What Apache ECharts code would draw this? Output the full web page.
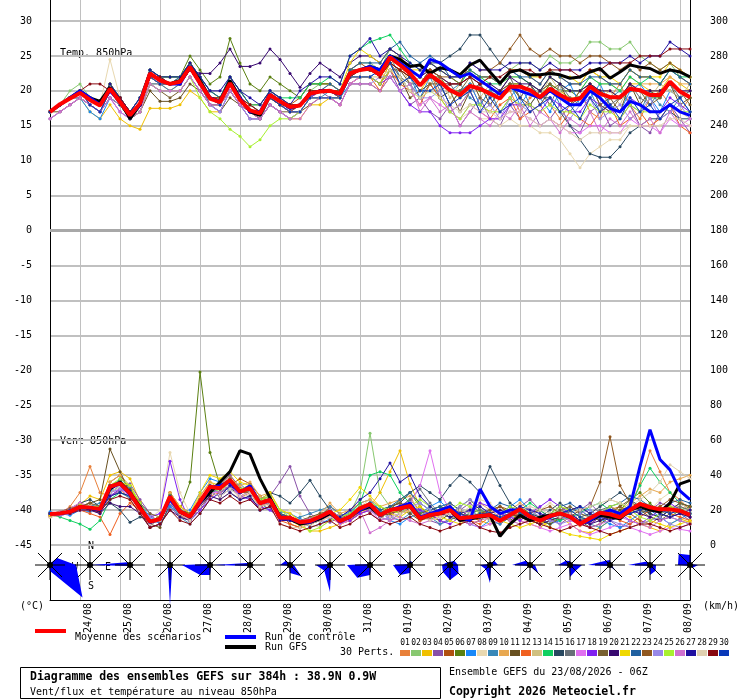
<!DOCTYPE html>
<html lang="fr">
<head>
<meta charset="UTF-8" />
<title>GEFS 850hPa</title>
<script src="https://cdn.jsdelivr.net/npm/echarts@6/dist/echarts.min.js"></script>
<style>html,body{margin:0;padding:0;background:#fff}</style>
</head>
<body>
<div id="main" style="width:740px;height:700px"></div>
<script>
// 6-hourly steps from 23/08 06Z to +384h
const steps = [];
for (let h = 0; h <= 384; h += 6) steps.push(h);

const dayLabels = ["24/08","25/08","26/08","27/08","28/08","29/08","30/08","31/08",
  "01/09","02/09","03/09","04/09","05/09","06/09","07/09","08/09"];

const pertColors = ["#e8803a","#88c870","#f0c000","#8850a8","#b05010","#5a8010","#1888f8","#e8d8b0",
  "#3888b8","#e8a850","#685020","#f06020","#d0c080","#10d060","#284860","#687078",
  "#e070f0","#8020f0","#786030","#380870","#f0d800","#2060a0","#905820","#9888e8",
  "#a8f030","#d070d0","#2010a0","#e0d0b0","#880810","#0838b8"];

// temperature 850hPa (°C)
const tempMean = [17.0,18.1,18.9,19.7,18.7,17.9,20.3,18.4,16.5,18.2,22.5,21.5,21.0,21.3,23.4,21.1,
  18.9,18.4,21.1,18.7,17.2,16.8,19.4,18.5,17.7,17.9,19.6,19.9,20.0,19.6,22.5,23.0,
  23.2,22.3,24.8,23.7,22.5,20.8,22.3,21.3,20.1,19.4,20.7,20.3,19.6,18.9,20.6,20.6,
  20.1,19.1,20.3,19.4,18.7,18.9,20.6,19.6,19.1,19.1,20.3,20.1,19.4,19.4,21.3,19.9,19.1];
const tempControl = [17,18,19,20,19,18,20,18.5,16.5,18,22.5,21.5,21,21,23.5,21,
  19,18.5,21,19,17,17,19.5,18.5,17.5,18,19.5,20,20,19.5,22.5,23,
  23.5,23,25,24,23,22,24.5,24,23,22,22.5,21.5,20.5,19.5,20.5,20,
  19.5,19,20,19,18,18,20,19,17.5,17,18.5,18,17,17,18,17,16.5];
const tempGfs = [17,18,19,20,19,18.5,20.5,18.5,16,18,22.5,21.5,21,21.5,23.5,21.5,
  19,18.5,21.5,19,17,16.5,19.5,18.5,17.5,18,19.5,20,20,19.5,22.5,23,
  23.5,23,25,24.5,23.5,23.7,22.5,23.3,23.0,22.3,23.7,24.4,22.7,21.1,22.7,23.0,
  22.3,22.3,22.5,22.3,21.8,22.0,22.7,23.2,21.8,22.7,23.7,23.4,23.2,22.5,23.0,22.7,22.0];
const tempPerts = [
  [17,18,19,20,18,17,20,18,16,17,21,21,20,21,23,21, 18,18,20,18,17,16,19,18,17,18,19,20,20,19,22,22,
   22,21,24,22,20,21,23,19,18,20,21,18,17,19,20,17, 19,20,18,16,18,20,17,16,19,21,18,16,19,20,18,17,19],
  [17,18,20,21,19,18,21,19,17,19,23,22,21,22,24,22, 19,19,22,20,18,17,20,19,18,18,20,21,21,20,23,24,
   24,23,26,25,23,22,24,23,22,21,23,22,22,21,23,24, 24,23,25,24,24,25,27,27,26,26,27,25,24,23,24,22,21],
  [16,17,18,19,17,16,18,16,15,14.5,17.5,17.5,17.5,18,20,19, 17,17,20,18,17,16,18,17,16,16,18,18,19,18,21,22,
   22,21,24,23,22,20,22,21,20,19,21,20,20,19,21,21, 20,19,21,20,19,19,21,20,20,19,21,21,20,20,22,21,20],
  [17,18,19,20,19,18,20,19,17,18,22,21,21,21,23,21, 19,18,21,19,17,17,19,18,17,17,19,20,19,19,22,22,
   22,21,23,20,18,19,17,16,18,15,17,19,16,15,18,16, 18,15,16,18,15,14,17,18,15,16,18,15,14,17,18,16,14],
  [17,18,19,20,19,18,21,19,17,19,23,22,22,22,24,22, 20,19,22,20,18,18,20,19,18,19,21,21,21,20,23,24,
   23,22,24,23,22,21,23,22,21,21,22,22,22,21,23,23, 22,21,23,22,21,21,23,22,21,21,23,22,22,21,23,22,21],
  [17,18,19,20,19,18,21,19,17,18,23,22,22,22,25,23, 21,22,27.5,24,21,20,22,21,20,19,21,21,21,20,23,23,
   23,23,25,24,22,21,22,22,20,20,21,20,20,19,21,21, 20,19,21,20,20,19,21,20,19,19,20,20,19,19,21,20,19],
  [16,17,18,19,17,16,19,17,16,17,21,20,20,20,22,20, 18,17,20,18,16,16,18,17,16,17,19,19,19,19,21,22,
   22,23,24,21,22,19,22,21,18,20,21,18,20,19,21,18, 20,19,17,20,21,18,19,21,18,17,20,21,19,17,20,19,17],
  [17,18,19,20,19,18,24.5,19,17,18,22,21,21,21,23,21, 19,18,21,19,17,17,19,18,17,18,19,20,20,19,22,22,
   22,22,23,21,20,18,19,18,17,16,17,16,16,15,16,15, 15,14,14,13,11,9,11,12,13,13,15,15,15,16,18,17,16],
  [17,18,19,19,18,17,20,18,16,17,21,21,20,21,23,21, 18,18,20,18,17,16,19,18,17,17,19,19,20,19,22,23,
   23,22,25,22,20,21,22,19,20,21,19,18,20,17,19,21, 18,20,21,18,17,19,20,17,19,20,18,17,20,18,17,19,20],
  [17,18,19,20,19,18,21,19,17,18,22,22,21,21,24,21, 19,19,21,19,17,17,19,18,18,18,20,20,20,20,22,23,
   23,23,25,24,23,22,23,22,21,21,22,21,22,21,22,22, 21,20,22,21,20,20,22,21,21,20,22,21,21,21,22,21,21],
  [17,17,18,19,18,17,19,18,16,17,20,18.5,18.5,19,21,20, 18,17,19,18,16,16,18,17,16,17,18,19,19,18,21,21,
   21,20,22,22,19,20,21,19,20,17,20,21,18,20,21,19, 21,18,20,21,18,19,21,18,19,17,21,18,20,19,21,18,19],
  [17,18,19,20,19,18,20,18,16,18,22,21,21,21,23,21, 19,18,21,19,17,17,19,18,17,17,19,19,19,18,21,22,
   22,20,23,21,20,18,21,19,17,18,20,17,16,18,19,16, 17,18,16,15,17,16,15,17,18,15,16,17,15,16,18,15,14],
  [17,18,19,20,19,18,21,19,17,18,22,22,21,21,23,21, 19,19,21,19,18,17,20,19,18,18,20,20,21,20,23,23,
   23,22,24,24,21,22,21,22,19,21,22,19,21,20,22,19, 21,19,22,20,18,20,21,19,20,18,21,20,19,21,20,19,21],
  [17,18,19,20,19,18,21,19,17,19,23,22,22,22,24,22, 20,19,22,20,18,18,20,19,19,19,21,21,22,21,25,26,
   27,27.5,28,26,24,23,24,23,22,21,23,22,21,21,22,22, 21,20,22,21,20,20,22,21,21,20,22,21,22,21,23,22,22],
  [17,18,19,20,19,18,20,19,17,18,22,21,21,21,23,21, 19,18,21,19,17,17,19,18,18,18,20,20,20,20,23,23,
   23,23,25,24,23,22,24,24,25,26,28,28,26,24,23,22, 21,19,19,17,15,13,11,10.5,10.5,12,14,15,16,16,17,16,16],
  [17,18,19,20,18,17,20,18,16,18,22,21,21,21,23,21, 19,18,21,19,17,16,19,18,17,17,19,20,20,19,22,23,
   23,23,24,22,21,21,23,20,21,19,20,21,19,20,22,19, 21,20,18,21,19,18,21,20,18,19,21,19,18,20,21,19,20],
  [16,17,18,19,18,17,19,17,16,17,21,20,20,20,22,20, 18,17,20,18,16,16,18,17,16,17,19,19,19,18,21,22,
   22,21,23,22,20,18,19,18,17,16,18,17,16,16,17,17, 16,15,16,15,14,14,15,15,14,14,16,15,15,14,16,15,15],
  [17,18,19,20,19,18,20,19,17,18,22,22,21,21,23,21, 19,18,21,19,17,17,19,18,17,18,19,20,20,19,22,22,
   22,21,22,20,18,17,17,15,14,14,14,15,16,16,18,18, 18,17,19,18,17,17,19,18,17,17,19,18,17,17,19,18,17],
  [17,18,19,19,18,17,19,18,16,17,21,20,19,20,22,20, 18,18,20,18,17,16,18,17,17,17,19,19,19,19,22,22,
   22,21,23,23,21,19,21,21,18,20,22,19,18,20,21,19, 18,20,21,19,18,20,21,18,17,19,21,20,18,19,21,20,18],
  [17,18,19,20,19,18,20,19,17,18,22,22,21,21,23,22.5, 22.5,24,26,23.5,23.5,24,26,24.5,22.5,20.5,22.5,24,23,22,24,25,
   25,24,26,25,23,22,23,22,21,21,22,21,21,20,22,21, 21,20,22,21,20,20,21,20,20,19,21,20,20,20,21,20,20],
  [17,18,19,20,19,18,21,19,17,18,22,22,21,21,24,21, 19,19,21,19,18,17,19,18,18,18,20,20,20,20,24,26,
   25,24,26,25,23,23,24,23,22,22,23,22,22,21,23,23, 22,22,23,22,22,21,23,22,22,21,23,22,22,22,24,23,22],
  [17,18,19,20,19,18,21,19,17,19,23,22,21,22,24,22, 20,19,22,20,18,17,20,19,18,18,20,20,21,20,23,24,
   24,24,26,27,25,24,25,24,22,22,23,22,22,21,23,22, 22,21,23,22,21,21,22,22,21,21,23,22,22,21,23,22,21],
  [17,18,19,20,19,18,20,19,17,18,22,21,21,21,23,21, 19,18,21,19,17,17,19,18,17,18,20,20,20,19,22,23,
   23,22,24,23,22,21,23,22,22,21,24,23,23,24,26,28, 26,25,26,25,25,24,25,25,24,23,24,23,24,23,24,23,22],
  [17,18,19,19,18,17,19,18,16,17,21,20,20,20,22,20, 18,17,20,18,16,16,18,17,16,17,19,19,19,18,21,21,
   21,22,22,20,21,19,19,20,17,18,20,17,18,16,19,18, 17,18,19,17,16,18,19,16,17,18,16,17,19,16,17,18,16],
  [17,18,19,20,19,18,20,18,16,17,21,20,20,20,22,19, 17,16,14.5,13.5,12,13,15,16,16,17,19,19,19,19,22,22,
   22,21,23,22,20,19,20,19,17,16,18,18,17,17,19,18, 18,17,18,17,17,16,18,17,17,16,18,17,17,17,18,17,17],
  [16,17,18,19,18,17,19,17,16,17,21,20,20,20,22,20, 18,18,20,18,17,16,18,17,16,16,18,19,19,18,21,21,
   21,20,22,20,21,17,19,17,18,15,17,16,15,17,16,18, 15,17,16,14,16,15,17,14,16,15,17,15,16,14,17,15,16],
  [17,18,19,20,19,18,21,19,17,19,23,22,22,22,24,22, 20,20,22,20,19,18,20,19,18,20,21,22,22,21,25,26,
   27.5,25,26,25,24,23,24,23,22,22,24,23,23,23,24,24, 24,23,24,23,23,23,24,24,24,24,25,24,25,25,27,26,25],
  [17,18,19,20,19,18,20,18,16,18,22,21,21,21,23,21, 19,18,21,19,17,17,19,18,17,17,19,19,19,19,22,22,
   22,22,23,22,20,19,20,19,18,17,18,17,17,16,17,17, 16,15,16,15,14,13,14,14,14,14,15,15,15,15,16,16,15],
  [17,18,19,20,21,21,20,19,17,18,22,22,21,21,23,21, 19,19,21,19,18,17,19,18,18,18,20,20,20,20,22,23,
   23,22,24,23,22,21,22,21,21,21,22,21,22,22,23,23, 23,22,23,23,23,22,23,23,24,24,24,25,25,25,26,26,26],
  [17,18,19,20,18,17,20,18,16,18,22,21,21,21,23,21, 19,18,21,19,17,17,19,18,17,17,19,19,19,19,22,22,
   22,23,24,21,22,20,20,21,18,19,20,17,19,17,18,19, 17,18,19,17,18,16,19,17,18,16,19,17,18,16,18,19,17]
];

// wind speed 850hPa (km/h)
const windMean = [17.7,18.1,19.1,21.9,21.4,20.6,33.4,35.3,29.6,21.0,13.4,14.9,27.7,19.1,16.2,24.8,
  33.4,32.5,37.2,30.5,32.5,23.9,25.8,15.6,15.6,13.0,13.7,16.2,19.1,13.7,16.2,21.0,
  23.4,17.2,20.0,21.0,22.3,15.3,17.2,18.1,20.0,15.3,15.9,16.6,17.2,13.9,17.2,20.4,
  16.2,13.9,16.6,18.1,16.2,12.0,15.3,18.5,17.6,15.9,20.0,23.5,21.6,20.4,20.4,19.6,17.2];
const windControl = [18,18,19,22,21,20,33,35,29,21,13,15,26,19,16,24,
  33,34,36,30,34,24,26,15,15,13,13,16,19,13,16,20,
  23,17,20,22,24,16,18,20,22,16,14,32,22,18,20,20,
  16,14,16,18,16,12,14,18,20,18,22,45,66,49,43,31,26];
const windGfs = [18,18,19,22,21,20,32,36,30,22,13,15,27,19,16,24,
  30,36,42,54,52,38,27,16,15,12,13,15,18,14,16,20,
  22,17,20,21,22,15,17,18,20,14,15,16,17,5,12,17,
  14,16,17,18,16,12,14,17,16,15,20,22,20,19,24,35,37];
const windPerts = [
  [17,18,22,30,45,30,28,32,26,18,12,14,25,17,14,22, 30,28,34,27,30,22,24,14,15,12,13,15,18,13,15,19,
   21,16,18,19,20,14,16,17,18,14,15,16,16,13,16,19, 15,13,16,17,15,11,14,17,17,15,22,35,54,42,30,26,20],
  [18,19,20,22,21,20,34,36,30,22,14,16,28,20,17,26, 34,33,38,31,33,25,27,17,16,14,15,17,20,15,18,30,
   64,30,22,21,23,16,18,19,21,16,17,18,18,15,18,21, 17,15,18,19,17,13,16,19,19,17,21,24,23,21,21,21,18],
  [17,18,20,23,28,26,40,42,38,25,12,14,30,20,15,28, 36,34,40,32,34,25,28,15,14,11,8,8,10,12,14,19,
   22,30,42,54,35,22,16,14,18,20,16,14,12,15,18,14, 12,10,14,16,12,8,7,10,14,18,16,12,10,8,12,15,13],
  [17,19,21,24,20,18,28,31,35,26,18,12,22,16,14,20, 28,34,40,33,26,20,28,36,45,28,18,14,13,16,20,24,
   18,14,16,22,26,20,14,12,15,20,24,18,14,12,16,22, 26,20,15,12,16,20,24,18,14,10,12,16,20,24,22,18,14],
  [16,17,19,22,24,20,36,40,32,20,10,12,30,22,18,26, 30,28,34,38,35,28,24,18,12,10,12,16,22,18,14,18,
   20,18,22,24,20,16,18,20,24,20,16,14,18,22,20,16, 14,12,16,20,18,14,12,16,20,22,18,14,12,16,20,24,20],
  [18,19,20,22,22,21,34,37,31,22,14,16,29,20,36,99, 53,34,38,31,33,24,26,16,16,13,14,16,19,14,16,21,
   23,17,20,26,30,22,17,14,18,22,26,20,16,14,18,22, 18,14,12,16,20,22,18,14,16,20,26,30,24,18,16,20,22],
  [19,18,17,20,19,22,30,38,33,24,16,12,22,18,20,30, 38,36,30,26,28,20,22,19,18,15,10,12,15,16,19,24,
   26,20,14,12,16,18,22,25,20,15,12,10,14,18,22,26, 20,15,12,14,18,22,20,15,12,10,14,18,20,16,12,15,18],
  [16,17,19,21,23,22,30,33,27,19,15,20,53,30,18,22, 28,26,30,27,29,21,23,16,20,18,12,10,14,18,16,22,
   26,22,18,16,20,24,20,16,14,18,22,26,24,18,14,12, 16,20,24,20,16,14,18,22,26,24,20,16,20,26,30,24,20],
  [18,18,19,20,22,24,28,30,27,22,16,14,24,16,12,18, 26,30,33,35,30,24,20,16,14,16,18,20,22,18,16,20,
   24,20,16,14,18,20,16,12,14,18,20,16,14,12,16,18, 14,12,16,18,20,16,12,10,14,18,20,24,22,18,16,14,12],
  [17,18,21,24,22,20,36,40,34,24,14,16,30,22,18,28, 36,32,38,34,36,28,30,20,18,14,15,18,24,18,20,24,
   26,22,24,26,28,18,16,20,22,18,20,24,20,16,20,24, 20,16,18,22,20,16,14,18,22,20,24,28,32,30,36,38,40],
  [18,17,19,22,24,26,55,42,30,20,12,10,24,18,14,22, 30,34,36,28,30,24,26,18,16,12,13,14,18,14,16,22,
   20,16,18,20,18,14,16,18,16,14,12,14,18,16,14,18, 16,14,12,15,18,14,10,12,16,20,22,20,18,16,20,18,16],
  [17,17,18,20,18,16,6,18,24,20,14,16,24,18,16,22, 28,30,34,28,30,22,24,14,12,10,12,14,16,12,14,18,
   20,16,14,18,20,14,16,18,20,16,14,12,16,18,20,16, 14,12,16,18,16,12,14,16,18,14,12,16,20,22,18,16,14],
  [18,19,20,22,20,20,32,36,32,22,12,14,26,20,18,26, 34,32,36,30,32,26,28,18,16,12,12,14,18,14,16,20,
   22,18,20,22,24,16,18,20,22,16,18,20,18,16,18,20, 18,16,18,20,18,14,16,18,20,18,22,24,22,20,22,22,20],
  [18,16,14,12,9,14,26,30,28,20,14,16,28,20,16,24, 30,32,36,30,32,24,26,16,16,14,14,16,20,16,18,24,
   40,42,40,30,24,18,20,22,20,16,18,20,18,14,16,20, 24,20,16,14,16,18,22,24,20,18,22,34,44,36,30,24,22],
  [18,18,20,24,26,22,24,20,13,16,14,16,26,18,16,22, 30,28,32,30,34,26,30,28,24,30,37,28,20,16,18,22,
   24,20,22,24,30,34,30,26,34,40,36,30,45,34,24,20, 18,16,20,24,20,16,18,22,26,30,26,22,18,16,20,24,22],
  [18,18,19,22,21,20,30,34,30,22,14,15,26,19,16,24, 32,32,36,30,32,24,26,16,16,13,14,16,19,14,16,21,
   22,18,20,22,26,32,24,18,20,16,18,20,18,16,18,20, 18,14,16,20,18,14,16,20,22,18,20,22,20,18,20,22,20],
  [18,19,21,24,22,20,30,32,28,20,12,14,26,18,14,22, 30,30,36,28,30,22,24,14,14,12,13,14,17,12,14,18,
   20,14,16,18,24,34,54,30,20,14,12,10,12,14,16,14, 12,10,8,10,12,8,6,8,10,12,10,8,6,8,10,9,8],
  [17,17,18,20,21,22,28,32,30,22,16,18,48,26,14,20, 26,30,34,28,26,22,20,16,14,12,14,16,20,16,14,18,
   20,18,16,18,22,20,18,14,12,16,20,24,22,18,16,14, 18,22,26,22,18,14,12,16,20,18,14,12,16,20,24,20,16],
  [18,18,20,22,24,22,34,36,32,24,18,16,26,20,18,24, 30,34,38,32,30,24,26,18,16,14,16,18,20,16,18,22,
   20,18,22,24,22,18,20,22,20,18,16,18,20,22,18,16, 14,12,16,20,22,18,16,14,18,22,26,20,16,14,18,20,18],
  [18,18,18,20,20,18,24,22,22,18,10,12,20,16,14,22, 28,26,30,26,28,20,22,14,14,12,12,14,18,14,16,20,
   22,18,20,22,20,16,18,20,18,16,14,16,18,20,18,16, 14,12,14,16,18,14,12,14,16,18,20,18,16,14,16,18,16],
  [17,18,20,22,20,21,32,36,34,22,14,16,28,22,18,30, 40,38,42,36,34,26,30,20,18,14,14,16,18,20,26,33,
   28,22,18,16,20,22,18,16,14,12,16,18,16,14,12,10, 12,14,10,8,6,5,4,3,6,8,10,12,14,12,10,12,14],
  [18,18,19,21,20,19,30,34,30,22,14,14,24,18,16,24, 32,30,34,30,32,26,28,18,16,14,15,16,18,14,16,20,
   24,20,22,26,30,24,20,22,24,20,18,16,20,24,22,18, 16,14,18,22,24,20,16,18,22,24,28,26,22,20,24,26,24],
  [18,19,21,22,22,21,34,36,31,22,14,16,28,20,18,26, 34,32,36,30,30,22,24,16,16,14,15,16,18,14,16,20,
   22,16,18,20,22,16,18,20,22,18,16,18,20,22,18,16, 18,20,22,18,16,20,22,36,62,34,24,22,20,22,26,24,22],
  [18,17,18,20,20,20,30,32,30,22,16,14,24,18,16,22, 30,28,32,28,30,24,26,16,14,12,14,16,20,16,18,22,
   20,16,14,18,22,24,20,16,18,22,26,22,18,16,18,22, 20,16,14,12,14,18,20,16,14,12,10,12,14,16,12,10,12],
  [18,19,20,23,22,22,34,38,34,24,14,16,28,20,16,24, 34,30,36,32,34,26,28,20,16,12,8,10,14,16,18,22,
   24,22,20,18,22,26,22,18,20,24,22,18,16,18,22,20, 16,14,18,22,20,16,14,18,22,24,20,16,14,18,22,20,18],
  [18,19,20,22,22,20,32,34,30,22,14,15,26,20,16,24, 32,30,34,28,30,24,26,16,16,14,15,16,18,14,16,20,
   7,10,14,16,14,12,14,16,18,14,12,14,16,18,14,12, 14,16,18,16,14,12,10,12,14,16,14,12,10,14,16,14,12],
  [18,18,20,22,20,20,28,30,28,20,12,14,24,18,16,24, 30,28,34,30,32,24,24,16,14,12,14,16,18,16,20,26,
   30,38,47,36,40,28,22,18,16,18,20,22,18,16,18,22, 20,18,16,18,20,22,18,16,14,16,18,20,22,18,16,18,20],
  [18,18,19,21,22,21,30,34,30,20,12,14,24,18,14,22, 30,28,32,28,30,22,24,12,10,10,12,14,16,14,16,20,
   22,18,16,18,20,16,14,16,18,20,18,16,14,16,18,20, 22,20,18,16,18,20,22,24,26,24,22,26,30,36,46,42,38],
  [18,18,18,20,20,19,26,28,26,18,10,12,20,14,12,18, 26,24,28,24,26,20,22,12,10,8,10,12,14,10,12,16,
   18,14,12,14,16,12,10,8,10,12,14,10,8,7,10,12, 14,12,10,8,10,12,10,8,6,8,10,12,12,10,8,10,12],
  [18,18,20,22,21,21,34,36,31,22,14,15,28,20,16,25, 34,32,37,30,32,24,26,17,16,13,14,16,19,14,16,21,
   24,18,20,22,24,16,18,20,22,18,16,18,18,16,18,20, 18,14,16,18,20,16,14,16,18,16,18,20,22,20,18,20,18]
];

// daily flow roses, one per 24h from the run start: N, NE, E, SE, S, SW, W, NW
const roseFreq = [
  [0,10,26,46,6,0,0,0], [0,0,4,0,0,0,0,0], [0,0,4,0,0,0,38,4], [4,0,0,3,40,3,0,0],
  [0,0,0,0,10,14,28,0], [0,0,4,0,0,0,36,3], [0,0,4,16,8,0,10,6], [0,0,0,0,27,8,14,0],
  [0,0,2,0,10,18,23,0], [4,4,0,0,8,14,17,0], [3,6,8,12,15,10,8,4], [0,6,8,0,18,6,10,0],
  [0,0,5,12,0,0,18,6], [4,0,12,8,12,0,12,6], [5,0,0,8,0,0,22,6], [0,0,6,8,10,0,22,5],
  [10,0,8,4,0,0,12,16]
];

const FONT = '"DejaVu Sans Mono", monospace';
const isMidnight = (i) => (steps[i] + 6) % 24 === 0;

const series = [];
function addLines(list, yIdx) {
  list.forEach((vals, k) => {
    series.push({
      type: "line", xAxisIndex: 0, yAxisIndex: yIdx, data: vals, silent: true,
      symbol: "circle", symbolSize: 3, z: 2,
      lineStyle: { width: 1, color: pertColors[k] }, itemStyle: { color: pertColors[k] }
    });
  });
}
addLines(tempPerts, 0);
addLines(windPerts, 1);

function addMain(vals, yIdx, color, width, z) {
  series.push({
    type: "line", xAxisIndex: 0, yAxisIndex: yIdx, data: vals, silent: true,
    showSymbol: false, z: z, lineStyle: { width: width, color: color }, itemStyle: { color: color }
  });
}
addMain(tempGfs, 0, "#000000", 3, 3);
addMain(windGfs, 1, "#000000", 3, 3);
addMain(tempControl, 0, "#0000ff", 3, 4);
addMain(windControl, 1, "#0000ff", 3, 4);
addMain(tempMean, 0, "#ff0000", 4, 5);
addMain(windMean, 1, "#ff0000", 4, 5);

// thicker zero line
series[series.length - 2].markLine = {
  silent: true, symbol: "none", label: { show: false }, animation: false,
  lineStyle: { color: "#a8a8a8", width: 3, type: "solid" }, data: [{ yAxis: 0 }]
};

// flow roses below the wind panel
const roseData = [];
roseFreq.forEach((r, k) => roseData.push([k * 4, k]));
series.push({
  type: "custom", xAxisIndex: 1, yAxisIndex: 2, silent: true, z: 6, data: roseData,
  renderItem: function (params, api) {
    const cx = api.coord([api.value(0), 0])[0];
    const cy = params.coordSys.y + params.coordSys.height - 35;
    const vals = roseFreq[api.value(1)];
    const pts = vals.map((r, d) => {
      const a = d * Math.PI / 4, rr = Math.max(r, 1.5);
      return [cx + rr * Math.sin(a), cy - rr * Math.cos(a)];
    });
    const children = [{ type: "polygon", shape: { points: pts }, style: { fill: "#0000ff" } }];
    for (let d = 0; d < 8; d++) {
      const a = d * Math.PI / 4, len = d % 2 ? 17 : 15;
      children.push({ type: "line", shape: { x1: cx, y1: cy, x2: cx + len * Math.sin(a), y2: cy - len * Math.cos(a) },
        style: { stroke: "#000", lineWidth: 1 } });
    }
    children.push({ type: "circle", shape: { cx: cx, cy: cy, r: 3 }, style: { fill: "#000" } });
    return { type: "group", children: children };
  }
});

// legend / title graphics
const txt = (x, y, text, size, bold, align) => ({
  type: "text", x: x, y: y, silent: true,
  style: { text: text, font: (bold ? "bold " : "") + size + "px " + FONT, fill: "#000",
    align: align || "left", verticalAlign: "middle" }
});
const graphics = [
  txt(60, 53, "Temp. 850hPa", 10), txt(60, 441, "Vent 850hPa", 10),
  txt(91, 546, "N", 10, false, "center"), txt(91, 586, "S", 10, false, "center"),
  txt(75, 567, "W", 10, false, "center"), txt(108, 567, "E", 10, false, "center"),
  txt(20, 606, "(°C)", 10), txt(703, 606, "(km/h)", 10),
  { type: "rect", shape: { x: 35, y: 629, width: 31, height: 4 }, style: { fill: "#ff0000" } },
  txt(75, 637, "Moyenne des scénarios", 10),
  { type: "rect", shape: { x: 225, y: 635, width: 31, height: 4 }, style: { fill: "#0000ff" } },
  txt(265, 637, "Run de contrôle", 10),
  { type: "rect", shape: { x: 225, y: 645, width: 31, height: 4 }, style: { fill: "#000000" } },
  txt(265, 647, "Run GFS", 10),
  txt(340, 652, "30 Perts.", 10),
  { type: "rect", shape: { x: 20.5, y: 667.5, width: 420, height: 31 }, style: { fill: "none", stroke: "#000", lineWidth: 1 } },
  txt(30, 677, "Diagramme des ensembles GEFS sur 384h : 38.9N 0.9W", 11.5, true),
  txt(30, 692, "Vent/flux et température au niveau 850hPa", 10),
  txt(449, 672, "Ensemble GEFS du 23/08/2026 - 06Z", 10),
  txt(449, 692, "Copyright 2026 Meteociel.fr", 11.5, true)
];
pertColors.forEach((c, k) => {
  graphics.push({ type: "rect", shape: { x: 400 + 11 * k, y: 650, width: 10, height: 6 }, style: { fill: c } });
  graphics.push(txt(405 + 11 * k, 643, String(k + 1).padStart(2, "0"), 8, false, "center"));
});

const axisText = { color: "#000", fontFamily: FONT, fontSize: 10 };

const options = {
  animation: false,
  backgroundColor: "#ffffff",
  grid: [
    { left: 50, right: 50, top: 21, height: 524, outerBoundsMode: "none", containLabel: false },
    { left: 50, right: 50, top: 0, height: 600, outerBoundsMode: "none", containLabel: false }
  ],
  xAxis: [
    { gridIndex: 0, type: "category", data: steps, boundaryGap: false, show: false },
    {
      gridIndex: 1, type: "category", data: steps, boundaryGap: false,
      axisLine: { show: true, onZero: false, lineStyle: { color: "#000", width: 1 } },
      axisTick: { show: false },
      splitLine: { show: true, interval: isMidnight, lineStyle: { color: "#c0c0c0", width: 1 } },
      axisLabel: Object.assign({
        interval: isMidnight, rotate: 90, margin: 3, verticalAlign: "top", lineHeight: 16,
        formatter: (v, i) => dayLabels[(steps[i] + 6) / 24 - 1]
      }, axisText)
    }
  ],
  yAxis: [
    {
      gridIndex: 0, type: "value", min: -45, max: 30, interval: 5, position: "left",
      axisLine: { show: false }, axisTick: { show: false },
      axisLabel: Object.assign({ margin: 18 }, axisText),
      splitLine: { lineStyle: { color: "#c0c0c0", width: 2 } }
    },
    {
      gridIndex: 0, type: "value", min: 0, max: 300, interval: 20, position: "right",
      axisLine: { show: false }, axisTick: { show: false },
      axisLabel: Object.assign({ margin: 20 }, axisText),
      splitLine: { show: false }
    },
    {
      gridIndex: 1, type: "value", min: 0, max: 1, position: "left",
      axisLine: { show: true, onZero: false, lineStyle: { color: "#000", width: 1 } },
      axisTick: { show: false }, axisLabel: { show: false }, splitLine: { show: false }
    },
    {
      gridIndex: 1, type: "value", min: 0, max: 1, position: "right",
      axisLine: { show: true, onZero: false, lineStyle: { color: "#000", width: 1 } },
      axisTick: { show: false }, axisLabel: { show: false }, splitLine: { show: false }
    }
  ],
  graphic: { elements: graphics },
  series: series
};

let myChart = echarts.init(document.getElementById("main"));
myChart.setOption(options);
</script>
</body>
</html>
